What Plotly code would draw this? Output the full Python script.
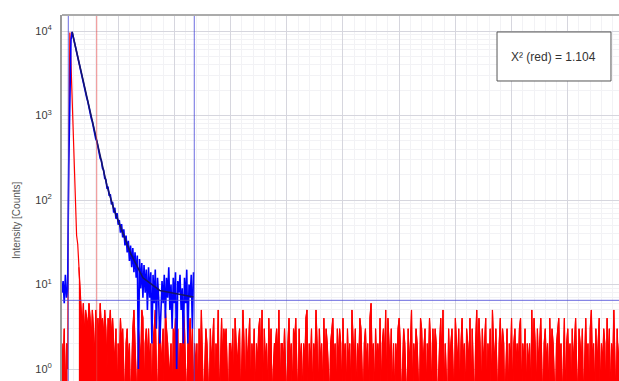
import plotly.graph_objects as go

# Time-resolved fluorescence decay (TCSPC histogram), log intensity axis
CH_NS = 0.1  # channel width in ns

# Sample decay counts, one value per channel starting at t = 0
decay_counts = [8, 11, 6, 13, 7, 9, 260, 2650, 7900, 9790, 8480, 7460, 6450, 5690,
                4880, 4310, 3720, 3290, 2810, 2500, 2140, 1910, 1620, 1450, 1230,
                1110, 930, 845, 705, 650, 532, 497, 410, 384, 311, 296, 238, 226,
                181, 176, 139, 141, 112, 117, 89, 95, 71, 81, 60, 70, 51, 58, 41,
                52, 36, 45, 29, 38, 24, 33, 19, 29, 16, 27, 14, 24, 12, 22, 1, 20,
                9, 18, 7, 17, 8, 15, 5, 16, 7, 14, 2, 13, 6, 15, 3, 12, 7, 2, 5,
                11, 6, 13, 4, 12, 7, 16, 5, 10, 3, 12, 6, 14, 1, 11, 8, 13, 5, 9,
                2, 12, 6, 15, 2, 10, 7, 13, 3, 14]

# Fitted decay curve (ns, counts)
fit_ns = [0.9, 3.0, 4.0, 4.6, 5.2, 6.1, 7.2, 8.7, 11.7]
fit_counts = [9770, 550, 148, 79, 48, 23.4, 12.0, 8.5, 7.1]

# Instrument response (IRF): rising edge and peak, then the background channels
irf_head = [2, 1, 3, 0, 2, 1, 400, 9600, 4200, 1500, 760, 240, 85, 38, 30, 16, 7, 5]
irf_tail = "3625436425315342634253143524"
irf_background = """
2130214231 0231201352 1032154023 1312023510 2412305321
1203241302 2153102241 3021203152 0132103124 0215024132
3102213042 1230152031 2402130213 4150312041 3012231502
2131024120 3241031202 1450213021 5203120413 2102341203
1320412031 2052130214 3102312046 1203121402 3150421302
0213420132 1031250213 2104312302 1420313201 2415021031
2310421302 4120321403 1025142031 2402130521 3102413201
3021402312 1340213021 2051420312 4102312041 3210234120
1402312031 2410321302 4120351203 1240213204 1302152031
2130421032 1402310241 3201250312 0421302143 1023140213
"""

# Fit window markers (ns) and background level (counts)
blue_markers_ns = [0.56, 11.77]
red_markers_ns = [3.09]
background_level = 6.5
chi2_text = "X² (red) = 1.104"

irf_counts = irf_head + [int(c) for c in irf_tail] + \
    [int(c) for c in "".join(irf_background.split())]

ZERO_FLOOR = 0.3  # empty channels drawn below the axis floor
PEAK_START, PEAK_END = 6, 16  # IRF pulse channels, drawn as a plain line


def to_plot(vals):
    return [v if v > 0 else ZERO_FLOOR for v in vals]


irf_t = [i * CH_NS for i in range(len(irf_counts))]
decay_t = [i * CH_NS for i in range(len(decay_counts))]
irf_y = to_plot(irf_counts)

fig = go.Figure()
# dense background channels of the IRF histogram: solid down to the floor
for a, b in [(0, PEAK_START), (PEAK_END - 1, len(irf_counts))]:
    fig.add_trace(go.Scatter(x=irf_t[a:b], y=irf_y[a:b], mode="lines",
                             line=dict(color="#ff0000", width=1),
                             fill="tozeroy", fillcolor="#ff0000",
                             hoverinfo="skip"))
fig.add_trace(go.Scatter(x=irf_t, y=irf_y, mode="lines",
                         line=dict(color="#ff0000", width=1.2), name="IRF"))
fig.add_trace(go.Scatter(x=decay_t, y=to_plot(decay_counts), mode="lines",
                         line=dict(color="#0000ff", width=1.6), name="Decay"))
fig.add_trace(go.Scatter(x=fit_ns, y=fit_counts, mode="lines",
                         line=dict(color="#15156a", width=1.6), name="Fit"))

BLUE_LINE = "rgba(70,70,215,0.8)"
RED_LINE = "rgba(225,70,70,0.65)"
shapes = []
for xm in blue_markers_ns:
    shapes.append(dict(type="line", xref="x", yref="paper", x0=xm, x1=xm, y0=0, y1=1,
                       line=dict(color=BLUE_LINE, width=1)))
for xm in red_markers_ns:
    shapes.append(dict(type="line", xref="x", yref="paper", x0=xm, x1=xm, y0=0, y1=1,
                       line=dict(color=RED_LINE, width=1)))
shapes.append(dict(type="line", xref="paper", yref="y", x0=0, x1=1,
                   y0=background_level, y1=background_level,
                   line=dict(color=BLUE_LINE, width=1)))
# top frame line
shapes.append(dict(type="line", xref="paper", yref="paper", x0=0, x1=1, y0=1, y1=1,
                   line=dict(color="#ababab", width=2)))
# chi-square box
shapes.append(dict(type="rect", xref="paper", yref="paper",
                   x0=0.781, x1=0.9856, y0=0.8197, y1=0.9536,
                   line=dict(color="#555555", width=1), fillcolor="white"))

major_vals = [1, 10, 100, 1000, 10000]
major_text = ["10<sup>0</sup>", "10<sup>1</sup>", "10<sup>2</sup>",
              "10<sup>3</sup>", "10<sup>4</sup>"]
minor_vals = [m * d for d in [1, 10, 100, 1000, 10000] for m in range(2, 10)]

GRID = "#d6d6de"
MINOR = "#f2f2f5"

fig.update_layout(
    width=619, height=381,
    margin=dict(l=62, r=0, t=15, b=0),
    paper_bgcolor="white", plot_bgcolor="white",
    showlegend=False,
    font=dict(family="Liberation Sans, Arial, sans-serif", color="#333333"),
    shapes=shapes,
    xaxis=dict(range=[0, 49.56], showticklabels=False, ticks="",
               tick0=0, dtick=5, showgrid=True, gridcolor=GRID, gridwidth=1,
               minor=dict(dtick=1, showgrid=True, gridcolor=MINOR),
               zeroline=False, showline=False),
    yaxis=dict(type="log", range=[-0.142, 4.19],
               tickmode="array", tickvals=major_vals, ticktext=major_text,
               tickfont=dict(size=11, color="#3a3a3a"), ticks="",
               ticklabelstandoff=6,
               showgrid=True, gridcolor=GRID, gridwidth=1,
               minor=dict(tickmode="array", tickvals=minor_vals, showgrid=True,
                          gridcolor=MINOR),
               showline=True, linecolor="#9a9a9a", linewidth=2, zeroline=False),
    annotations=[
        dict(text="Intensity [Counts]", xref="paper", yref="paper",
             x=-0.0808, y=0.44, xanchor="center", yanchor="middle",
             textangle=-90, showarrow=False,
             font=dict(size=10, color="#555555")),
        dict(text=chi2_text, xref="paper", yref="paper",
             x=0.8833, y=0.8866, xanchor="center", yanchor="middle",
             showarrow=False, font=dict(size=12, color="#333333")),
    ],
)

fig.write_html("out.html")
